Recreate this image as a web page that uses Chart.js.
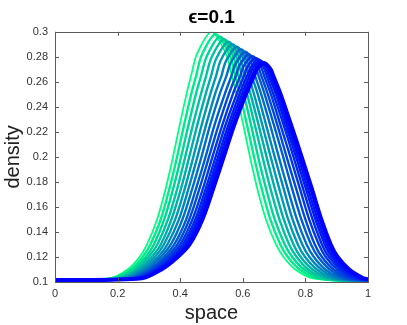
<!DOCTYPE html>
<html>
<head>
<meta charset="utf-8">
<script src="https://cdn.jsdelivr.net/npm/chart.js@4"></script>
<style>
html, body { margin: 0; padding: 0; background: #fff; }
#wrap { width: 407px; height: 325px; }
</style>
</head>
<body>
<div id="wrap"><canvas id="c"></canvas></div>
<script>
// density levels at which the flank positions of each curve were read
const levels = [0.103, 0.11, 0.12, 0.13, 0.15, 0.175, 0.2, 0.225, 0.25, 0.265];

// colour position of each curve: 0 = first (green), 1 = last (blue)
const curveMix = [0, 0.08, 0.16, 0.24, 0.32, 0.4, 0.48, 0.56, 0.64, 0.71, 0.78, 0.84, 0.89, 0.93, 0.97, 1];

// space value of the rising side of each curve at every level
const leftFlank = [
    [0.176, 0.232, 0.27, 0.294, 0.326, 0.354, 0.377, 0.398, 0.42, 0.435],
    [0.184, 0.241, 0.28, 0.305, 0.338, 0.366, 0.39, 0.412, 0.435, 0.451],
    [0.192, 0.249, 0.29, 0.316, 0.349, 0.378, 0.403, 0.426, 0.45, 0.467],
    [0.2, 0.258, 0.299, 0.327, 0.361, 0.391, 0.416, 0.44, 0.466, 0.483],
    [0.208, 0.267, 0.309, 0.338, 0.372, 0.403, 0.429, 0.454, 0.481, 0.499],
    [0.216, 0.275, 0.319, 0.348, 0.384, 0.415, 0.442, 0.468, 0.496, 0.515],
    [0.225, 0.284, 0.329, 0.359, 0.396, 0.427, 0.455, 0.482, 0.511, 0.532],
    [0.233, 0.293, 0.338, 0.37, 0.407, 0.439, 0.468, 0.495, 0.526, 0.548],
    [0.241, 0.301, 0.348, 0.381, 0.419, 0.451, 0.481, 0.509, 0.542, 0.564],
    [0.248, 0.309, 0.357, 0.391, 0.429, 0.462, 0.492, 0.522, 0.555, 0.578],
    [0.255, 0.316, 0.365, 0.4, 0.439, 0.473, 0.503, 0.534, 0.568, 0.592],
    [0.261, 0.323, 0.373, 0.408, 0.448, 0.482, 0.513, 0.544, 0.58, 0.604],
    [0.266, 0.328, 0.379, 0.415, 0.455, 0.489, 0.521, 0.553, 0.589, 0.614],
    [0.27, 0.332, 0.384, 0.421, 0.461, 0.495, 0.528, 0.56, 0.597, 0.622],
    [0.274, 0.337, 0.388, 0.426, 0.467, 0.501, 0.534, 0.567, 0.604, 0.63],
    [0.277, 0.34, 0.392, 0.43, 0.471, 0.506, 0.539, 0.572, 0.61, 0.636]
];

// space value of the falling side of each curve at every level
const rightFlank = [
    [0.824, 0.768, 0.73, 0.706, 0.674, 0.646, 0.623, 0.602, 0.58, 0.565],
    [0.837, 0.782, 0.744, 0.72, 0.688, 0.66, 0.636, 0.614, 0.591, 0.576],
    [0.85, 0.796, 0.758, 0.734, 0.702, 0.674, 0.649, 0.627, 0.603, 0.586],
    [0.863, 0.809, 0.772, 0.748, 0.717, 0.688, 0.663, 0.639, 0.614, 0.597],
    [0.876, 0.823, 0.785, 0.762, 0.731, 0.702, 0.676, 0.651, 0.625, 0.607],
    [0.888, 0.837, 0.799, 0.776, 0.745, 0.716, 0.689, 0.663, 0.636, 0.618],
    [0.901, 0.851, 0.813, 0.79, 0.759, 0.73, 0.702, 0.675, 0.648, 0.628],
    [0.914, 0.864, 0.827, 0.804, 0.773, 0.743, 0.715, 0.688, 0.659, 0.639],
    [0.927, 0.878, 0.841, 0.818, 0.787, 0.757, 0.729, 0.7, 0.67, 0.65],
    [0.938, 0.89, 0.853, 0.83, 0.8, 0.77, 0.74, 0.711, 0.68, 0.659],
    [0.95, 0.902, 0.865, 0.843, 0.812, 0.782, 0.752, 0.721, 0.69, 0.668],
    [0.959, 0.913, 0.875, 0.853, 0.823, 0.792, 0.762, 0.731, 0.698, 0.676],
    [0.967, 0.921, 0.884, 0.862, 0.832, 0.801, 0.77, 0.738, 0.706, 0.683],
    [0.974, 0.928, 0.891, 0.869, 0.839, 0.808, 0.777, 0.744, 0.711, 0.688],
    [0.98, 0.935, 0.898, 0.876, 0.846, 0.815, 0.783, 0.75, 0.717, 0.693],
    [0.985, 0.94, 0.903, 0.881, 0.851, 0.82, 0.788, 0.755, 0.721, 0.697]
];

// round tops: a point on each side half way down to the 0.265 level, then the peak
const shoulderY = [0.2825, 0.2815, 0.2805, 0.2795, 0.2785, 0.2775, 0.2765, 0.2755, 0.2745, 0.2735, 0.2728, 0.272, 0.2714, 0.2709, 0.2704, 0.27];
const shoulderLX = [0.454, 0.469, 0.485, 0.5, 0.515, 0.53, 0.546, 0.562, 0.577, 0.59, 0.603, 0.615, 0.625, 0.632, 0.64, 0.645];
const shoulderRX = [0.546, 0.558, 0.569, 0.58, 0.591, 0.603, 0.614, 0.626, 0.638, 0.647, 0.657, 0.666, 0.673, 0.679, 0.684, 0.689];
const peakX = [0.5, 0.513, 0.527, 0.54, 0.554, 0.567, 0.581, 0.594, 0.608, 0.619, 0.631, 0.641, 0.65, 0.656, 0.663, 0.668];
const peakY = [0.3, 0.298, 0.296, 0.294, 0.292, 0.29, 0.288, 0.286, 0.284, 0.282, 0.2805, 0.279, 0.2778, 0.2768, 0.2758, 0.275];

// values at the two ends, space = 0 and space = 1
const startY = [0.1, 0.1, 0.1, 0.1, 0.1, 0.1002, 0.1003, 0.1005, 0.1006, 0.1008, 0.1009, 0.101, 0.1012, 0.1013, 0.1014, 0.1015];
const endY = [0.1, 0.1, 0.1, 0.1, 0.1002, 0.1004, 0.1006, 0.1008, 0.101, 0.1012, 0.1014, 0.1016, 0.1018, 0.1019, 0.1021, 0.1022];

const xTicks = [0, 0.2, 0.4, 0.6, 0.8, 1];
const yTicks = [0.1, 0.12, 0.14, 0.16, 0.18, 0.2, 0.22, 0.24, 0.26, 0.28, 0.3];

function curvePoints(k) {
    const pts = [{ x: 0, y: startY[k] }];
    levels.forEach((lv, i) => pts.push({ x: leftFlank[k][i], y: lv }));
    pts.push({ x: shoulderLX[k], y: shoulderY[k] });
    pts.push({ x: peakX[k], y: peakY[k] });
    pts.push({ x: shoulderRX[k], y: shoulderY[k] });
    for (let i = levels.length - 1; i >= 0; i--) {
        pts.push({ x: rightFlank[k][i], y: levels[i] });
    }
    pts.push({ x: 1, y: endY[k] });
    return pts;
}

// winter-like colour ramp, green -> blue
function curveColor(f) {
    const g = Math.round(255 * (1 - f));
    const b = Math.round(127.5 + 127.5 * f);
    return `rgb(0, ${g}, ${b})`;
}

// first dataset is painted last, so start from the blue curve
const datasets = [];
for (let k = curveMix.length - 1; k >= 0; k--) {
    let w = 2.4;
    if (k === curveMix.length - 1) w = 4;
    if (k === 0) w = 1.8;
    datasets.push({
        data: curvePoints(k),
        borderColor: curveColor(curveMix[k]),
        borderWidth: w,
        pointRadius: 0,
        tension: 0.3,
        fill: false
    });
}

// box round the plot with inward tick marks on all four sides
const boxTicks = {
    id: 'boxTicks',
    afterDraw(chart) {
        const { ctx, chartArea: a, scales: { x, y } } = chart;
        ctx.save();
        ctx.strokeStyle = '#5a5a5a';
        ctx.lineWidth = 1;
        ctx.strokeRect(Math.round(a.left) + 0.5, Math.round(a.top) + 0.5,
            Math.round(a.right - a.left), Math.round(a.bottom - a.top));
        ctx.beginPath();
        xTicks.forEach(v => {
            const px = Math.round(x.getPixelForValue(v)) + 0.5;
            ctx.moveTo(px, a.bottom); ctx.lineTo(px, a.bottom - 4);
            ctx.moveTo(px, a.top); ctx.lineTo(px, a.top + 4);
        });
        yTicks.forEach(v => {
            const py = Math.round(y.getPixelForValue(v)) + 0.5;
            ctx.moveTo(a.left, py); ctx.lineTo(a.left + 4, py);
            ctx.moveTo(a.right, py); ctx.lineTo(a.right - 4, py);
        });
        ctx.stroke();
        ctx.restore();
    }
};

const tickFont = { family: 'Liberation Sans', size: 11 };

new Chart(document.getElementById('c'), {
    type: 'line',
    data: { datasets: datasets },
    options: {
        responsive: true,
        maintainAspectRatio: false,
        animation: false,
        layout: { padding: { left: 0, right: 39, top: 0, bottom: 0 } },
        plugins: {
            legend: { display: false },
            tooltip: { enabled: false },
            title: {
                display: true,
                fullSize: false,
                text: 'ϵ=0.1',
                color: '#000',
                font: { family: 'Liberation Sans', size: 19, weight: 'bold' },
                padding: { top: 6, bottom: 3 }
            }
        },
        scales: {
            x: {
                type: 'linear',
                min: 0,
                max: 1,
                afterBuildTicks: s => { s.ticks = xTicks.map(v => ({ value: v })); },
                afterFit: s => { s.height = 43; },
                grid: { display: false, drawTicks: false },
                border: { display: false },
                ticks: { color: '#333', font: tickFont, padding: 5, maxRotation: 0, callback: v => String(v) },
                title: {
                    display: true,
                    text: 'space',
                    color: '#222',
                    font: { family: 'Liberation Sans', size: 20 },
                    padding: { top: 0, bottom: 0 }
                }
            },
            y: {
                min: 0.1,
                max: 0.3,
                afterBuildTicks: s => { s.ticks = yTicks.map(v => ({ value: v })); },
                afterFit: s => { s.width = 55; },
                grid: { display: false, drawTicks: false },
                border: { display: false },
                ticks: { color: '#333', font: tickFont, padding: 7, callback: v => String(v) },
                title: {
                    display: true,
                    text: 'density',
                    color: '#222',
                    font: { family: 'Liberation Sans', size: 20 },
                    padding: { top: 1, bottom: 0 }
                }
            }
        }
    },
    plugins: [boxTicks]
});
</script>
</body>
</html>
